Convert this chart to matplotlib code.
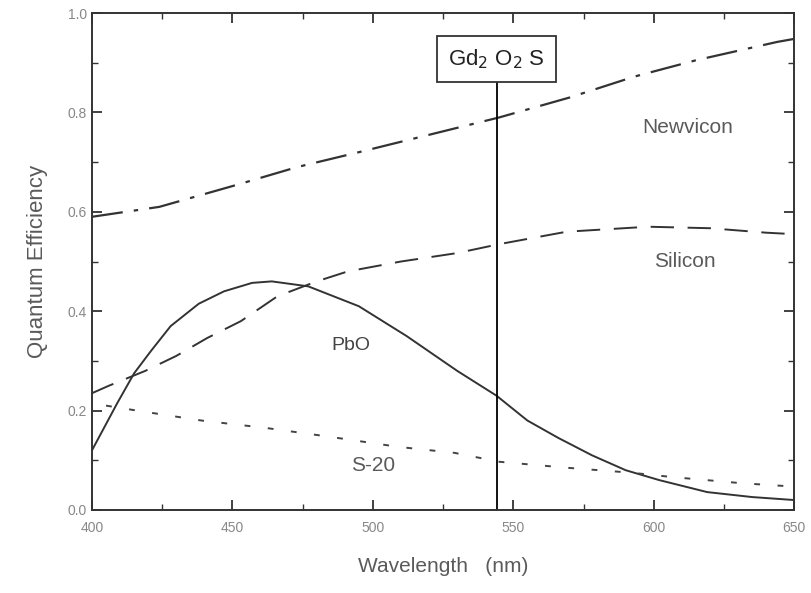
import numpy as np
import matplotlib
matplotlib.use("Agg")
import matplotlib.pyplot as plt
from matplotlib.ticker import MultipleLocator, FormatStrFormatter

# Values
wl_newvicon = [400, 424, 452, 473, 495, 520, 545, 570, 593, 615, 644, 650]
qe_newvicon = [0.59, 0.61, 0.655, 0.69, 0.72, 0.755, 0.79, 0.83, 0.872, 0.905, 0.942, 0.948]

wl_silicon = [400, 406, 419, 430, 441, 453, 466, 480, 491, 510, 530, 545, 569, 598, 620, 640, 650]
qe_silicon = [0.235, 0.25, 0.28, 0.31, 0.346, 0.38, 0.43, 0.46, 0.48, 0.50, 0.517, 0.535,
              0.56, 0.57, 0.567, 0.558, 0.555]

wl_pbo = [400, 409, 415, 421, 428, 438, 447, 457, 464, 477, 495, 512, 530, 544, 555, 566,
          578, 590, 602, 619, 635, 650]
qe_pbo = [0.12, 0.215, 0.275, 0.32, 0.37, 0.415, 0.44, 0.457, 0.46, 0.45, 0.41, 0.35,
          0.28, 0.23, 0.18, 0.145, 0.11, 0.08, 0.06, 0.036, 0.026, 0.02]

wl_s20 = [405, 416, 439, 462, 485, 509, 529, 545, 569, 592, 607, 631, 650]
qe_s20 = [0.21, 0.20, 0.18, 0.165, 0.147, 0.127, 0.115, 0.097, 0.085, 0.075, 0.066, 0.054, 0.047]

gd_line = 544

grey = "#5a5a5a"
plt.rcParams['font.family'] = ['Liberation Sans', 'DejaVu Sans']

fig = plt.figure(figsize=(8.11, 5.93), dpi=100)
ax = fig.add_axes([0.1134, 0.14, 0.866, 0.838])

ax.plot(wl_newvicon, qe_newvicon, color="#333333", lw=1.6, dashes=(14, 5, 2, 5))
ax.plot(wl_silicon, qe_silicon, color="#333333", lw=1.4, dashes=(12, 7))
ax.plot(wl_pbo, qe_pbo, color="#333333", lw=1.4)
ax.plot(wl_s20, qe_s20, color="#444444", lw=1.4, dashes=(3, 9))

ax.axvline(gd_line, ymax=0.86, color="black", lw=1.3)
ax.text(gd_line, 0.907, r"Gd$_2$ O$_2$ S", ha="center", va="center", fontsize=16,
        color="#222222",
        bbox=dict(boxstyle="square,pad=0.5", fc="white", ec="#333333", lw=1.3))

ax.text(612, 0.77, "Newvicon", ha="center", va="center", fontsize=15, color=grey)
ax.text(611, 0.50, "Silicon", ha="center", va="center", fontsize=15, color=grey)
ax.text(492, 0.33, "PbO", ha="center", va="center", fontsize=14, color="#444444")
ax.text(500, 0.09, "S-20", ha="center", va="center", fontsize=15, color=grey)

ax.set_xlim(400, 650)
ax.set_ylim(0, 1.0)
ax.xaxis.set_major_locator(MultipleLocator(50))
ax.xaxis.set_minor_locator(MultipleLocator(25))
ax.yaxis.set_major_locator(MultipleLocator(0.2))
ax.yaxis.set_minor_locator(MultipleLocator(0.1))
ax.tick_params(which="both", direction="in", top=True, right=True,
               labelsize=10, labelcolor="#888888", color="#333333")
ax.tick_params(which="major", length=7, width=1.3)
ax.tick_params(which="minor", length=4, width=1)
ax.tick_params(axis="x", pad=8)
ax.yaxis.set_major_formatter(FormatStrFormatter("%.1f"))
for s in ax.spines.values():
    s.set_linewidth(1.4)
    s.set_color("#333333")

ax.set_xlabel("Wavelength   (nm)", fontsize=15, color=grey, labelpad=16)
ax.set_ylabel("Quantum Efficiency", fontsize=16, color=grey, labelpad=14)

fig.savefig("out.png", dpi=100)
